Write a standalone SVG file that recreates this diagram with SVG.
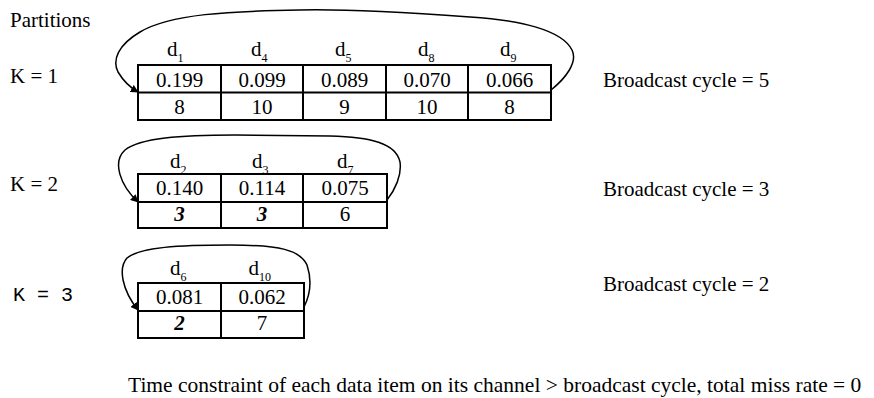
<svg xmlns="http://www.w3.org/2000/svg" width="874" height="398" viewBox="0 0 874 398">
<style>
.t{font-family:"Liberation Serif","Times New Roman",serif;font-size:21px;fill:#000}
.c{font-family:"Liberation Serif","Times New Roman",serif;font-size:21px;fill:#000;text-anchor:middle}
.bi{font-weight:bold;font-style:italic}
.m{font-family:"Liberation Mono","Courier New",monospace;font-size:20px;fill:#000}
.s{font-size:12px}
.g{fill:none;stroke:#000;stroke-width:2}
.loop{fill:none;stroke:#000;stroke-width:1.5}
</style>
<defs>
<marker id="ah" viewBox="0 0 10 10" refX="9" refY="5" markerWidth="8" markerHeight="8" markerUnits="userSpaceOnUse" orient="auto">
<path d="M0,0 L10,5 L0,10 z" fill="#000"/>
</marker>
</defs>
<rect width="874" height="398" fill="#fff"/>
<text class="t" x="10" y="27">Partitions</text>
<text class="t" x="10" y="83">K = 1</text>
<text class="t" x="10" y="191">K = 2</text>
<text class="m" x="13" y="301" xml:space="preserve">K = 3</text>

<g id="table1">
<rect class="g" x="138" y="65" width="413" height="55"/>
<line class="g" x1="138" y1="92.5" x2="551" y2="92.5"/>
<line class="g" x1="221" y1="65" x2="221" y2="120"/>
<line class="g" x1="303" y1="65" x2="303" y2="120"/>
<line class="g" x1="386" y1="65" x2="386" y2="120"/>
<line class="g" x1="468" y1="65" x2="468" y2="120"/>
<text class="t" x="167" y="56">d<tspan class="s" dy="6">1</tspan></text>
<text class="t" x="251" y="56">d<tspan class="s" dy="6">4</tspan></text>
<text class="t" x="335" y="56">d<tspan class="s" dy="6">5</tspan></text>
<text class="t" x="418" y="56">d<tspan class="s" dy="6">8</tspan></text>
<text class="t" x="500" y="56">d<tspan class="s" dy="6">9</tspan></text>
<text class="c" x="179.5" y="87">0.199</text>
<text class="c" x="262" y="87">0.099</text>
<text class="c" x="344.5" y="87">0.089</text>
<text class="c" x="427" y="87">0.070</text>
<text class="c" x="509.5" y="87">0.066</text>
<text class="c" x="179.5" y="114">8</text>
<text class="c" x="262" y="114">10</text>
<text class="c" x="344.5" y="114">9</text>
<text class="c" x="427" y="114">10</text>
<text class="c" x="509.5" y="114">8</text>
</g>

<g id="table2">
<rect class="g" x="138" y="174" width="249" height="54"/>
<line class="g" x1="138" y1="202" x2="387" y2="202"/>
<line class="g" x1="221" y1="174" x2="221" y2="228"/>
<line class="g" x1="303" y1="174" x2="303" y2="228"/>
<text class="t" x="170" y="167.5">d<tspan class="s" dy="6.5">2</tspan></text>
<text class="t" x="252" y="167.5">d<tspan class="s" dy="6.5">3</tspan></text>
<text class="t" x="337" y="167.5">d<tspan class="s" dy="6.5">7</tspan></text>
<text class="c" x="179.5" y="195">0.140</text>
<text class="c" x="262" y="195">0.114</text>
<text class="c" x="345" y="195">0.075</text>
<text class="c bi" x="179.5" y="221">3</text>
<text class="c bi" x="262" y="221">3</text>
<text class="c" x="345" y="221">6</text>
</g>

<g id="table3">
<rect class="g" x="138" y="283" width="166" height="55"/>
<line class="g" x1="138" y1="311" x2="304" y2="311"/>
<line class="g" x1="221" y1="283" x2="221" y2="338"/>
<text class="t" x="170" y="274.5">d<tspan class="s" dy="6.5">6</tspan></text>
<text class="t" x="248.5" y="274.5">d<tspan class="s" dy="6.5">10</tspan></text>
<text class="c" x="179.5" y="303.5">0.081</text>
<text class="c" x="262" y="303.5">0.062</text>
<text class="c bi" x="179.5" y="330">2</text>
<text class="c" x="262" y="330">7</text>
</g>

<g id="connectors">
<path class="loop" marker-end="url(#ah)" d="M551,90 C566,78 578,62 572,50 C562,30 520,20 470,17 C400,12 340,9 300,10 C230,11 170,14 140,32 C118,45 112,60 118,72 C124,82 131,88 138,92"/>
<path class="loop" marker-end="url(#ah)" d="M387,200 C395,190 402,175 400,162 C396,143 370,137 330,136 L235,135 C180,135 140,138 125,150 C112,162 120,185 138,202"/>
<path class="loop" marker-end="url(#ah)" d="M304,307 C310,295 312,280 307,265 C300,250 280,245 230,245 C180,245 140,247 127,258 C118,268 122,290 138,310"/>
</g>

<text class="t" x="603" y="87">Broadcast cycle = 5</text>
<text class="t" x="603" y="196">Broadcast cycle = 3</text>
<text class="t" x="603" y="291">Broadcast cycle = 2</text>
<text class="t" x="128" y="391.5" style="font-size:21.5px">Time constraint of each data item on its channel &gt; broadcast cycle, total miss rate = 0</text>
</svg>
